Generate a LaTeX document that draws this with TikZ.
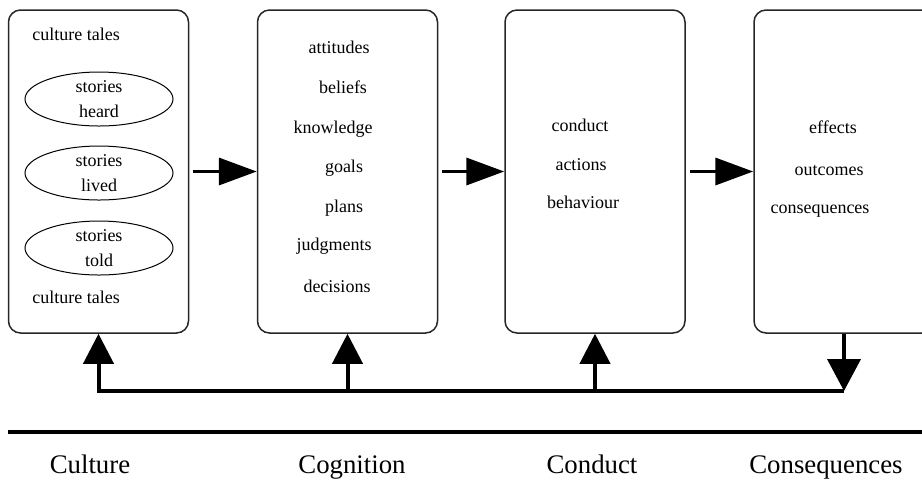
\documentclass[tikz,border=0pt]{standalone}
\usepackage{fontspec}
\setmainfont{Liberation Serif}
\usetikzlibrary{arrows.meta,shapes.geometric}
\begin{document}
\begin{tikzpicture}[x=0.5pt,y=-0.5pt,
    blk/.style={draw=black!85, line width=0.75pt, rounded corners=6pt, minimum width=90pt, minimum height=161.5pt, inner sep=0},
    ell/.style={draw, ellipse, line width=0.5pt, minimum width=74pt, minimum height=27pt, inner sep=0.25pt, align=center, font=\fontsize{9}{12.5}\selectfont},
    txt/.style={inner sep=0, anchor=base, font=\fontsize{9}{11}\selectfont},
    big/.style={inner sep=0, anchor=base, font=\fontsize{13.4}{16}\selectfont},
    flow/.style={line width=1.8pt, -{Triangle[length=19pt,width=13.5pt]}},
    fb/.style={line width=2pt}]
    \clip (0,0) rectangle (922,479);

    \node[blk] (cult) at (98.5,171.5) {};  \node[blk] (cog) at (347.5,171.5) {};
    \node[blk] (cond) at (595,171.5) {};   \node[blk] (cons) at (844,171.5) {};

    % culture
    \node[txt, anchor=base west] (ct1) at (32,40) {culture tales};
    \node[ell] (heard) at (99,99) {stories\\heard};
    \node[ell] (lived) at (99,173) {stories\\lived};
    \node[ell] (told) at (99,248) {stories\\told};
    \node[txt, anchor=base west] (ct2) at (32,303) {culture tales};

    % cognition, conduct, consequences
    \foreach \t/\x/\y [count=\i] in {attitudes/339/53, beliefs/343/93, knowledge/333/133, goals/344/172, plans/344/212, judgments/334/250, decisions/337/292}
        \node[txt] (cogt\i) at (\x,\y) {\t};
    \foreach \t/\x/\y [count=\i] in {conduct/580/131, actions/581/170, behaviour/583/208}
        \node[txt] (condt\i) at (\x,\y) {\t};
    \foreach \t/\x/\y [count=\i] in {effects/833/133, outcomes/829/175, consequences/820/213}
        \node[txt] (const\i) at (\x,\y) {\t};

    \draw[flow] ([xshift=2pt]cult.east) -- (cog.west);
    \draw[flow] ([xshift=2pt]cog.east) -- (cond.west);
    \draw[flow] ([xshift=2pt]cond.east) -- (cons.west);

    % feedback
    \coordinate (fb) at (0,391);
    \draw[fb, {Triangle[length=15pt,width=15pt]}-] (cult.south) -- (cult.south |- fb) -- (cons.south |- fb);
    \draw[fb, -{Triangle[length=15pt,width=15pt]}] (cog.south |- fb) -- (cog.south);
    \draw[fb, -{Triangle[length=15pt,width=15pt]}] (cond.south |- fb) -- (cond.south);
    \draw[fb, -{Triangle[length=16pt,width=16.5pt]}] (cons.south) -- (cons.south |- fb);

    \coordinate (rl) at (8,432); \coordinate (rr) at (922,432);
    \draw[line width=2pt] (rl) -- (rr);

    \node[big] (lcult) at (90,473) {Culture};   \node[big] (lcog) at (352,473) {Cognition};
    \node[big] (lcond) at (592,473) {Conduct};  \node[big] (lcons) at (826,473) {Consequences};
\end{tikzpicture}
\end{document}
